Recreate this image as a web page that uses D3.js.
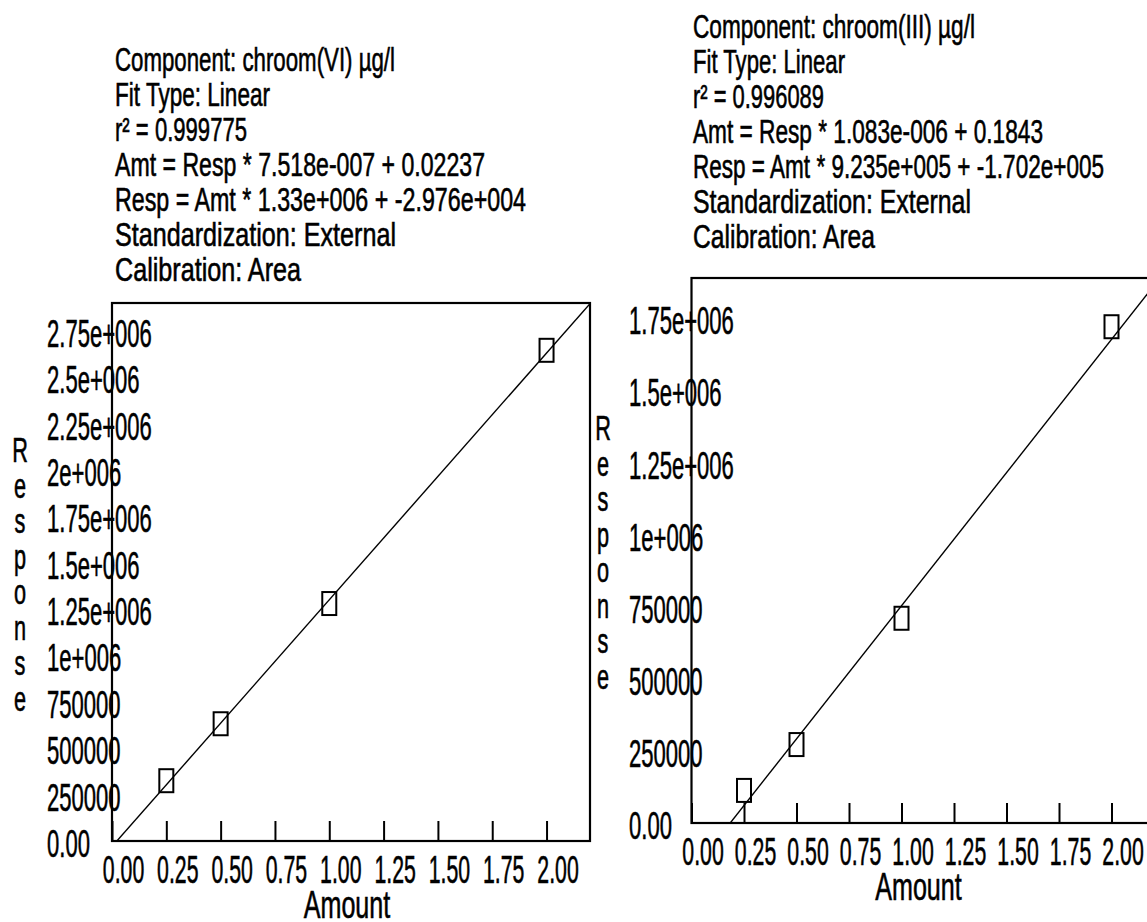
<!DOCTYPE html>
<html>
<head>
<meta charset="utf-8">
<script src="https://cdn.jsdelivr.net/npm/d3@7"></script>
<style>
  html, body { margin: 0; padding: 0; background: #fff; }
  svg { display: block; }
  text { font-family: "Liberation Sans", Arial, sans-serif; fill: #000; stroke: #000; stroke-width: 0.6px; }
</style>
</head>
<body>
<svg id="chart" width="1147" height="922"></svg>
<script>
// Shared amount axis
const amountTicks = [0, 0.25, 0.5, 0.75, 1.0, 1.25, 1.5, 1.75, 2.0];
const amountTickLabels = ["0.00", "0.25", "0.50", "0.75", "1.00", "1.25", "1.50", "1.75", "2.00"];

// chroom(VI) calibration
const viHeader = [
  "Component: chroom(VI) µg/l",
  "Fit Type: Linear",
  "r² = 0.999775",
  "Amt = Resp * 7.518e-007 + 0.02237",
  "Resp = Amt * 1.33e+006 + -2.976e+004",
  "Standardization: External",
  "Calibration: Area"
];
const viAmount = [0.25, 0.5, 1.0, 2.0];
const viResponse = [325000, 632000, 1280000, 2645000];
const viSlope = 1.33e6;
const viIntercept = -2.976e4;
const viYTicks = [0, 250000, 500000, 750000, 1000000, 1250000, 1500000, 1750000, 2000000, 2250000, 2500000, 2750000];
const viYTickLabels = ["0.00", "250000", "500000", "750000", "1e+006", "1.25e+006", "1.5e+006", "1.75e+006", "2e+006", "2.25e+006", "2.5e+006", "2.75e+006"];

// chroom(III) calibration
const iiiHeader = [
  "Component: chroom(III) µg/l",
  "Fit Type: Linear",
  "r² = 0.996089",
  "Amt = Resp * 1.083e-006 + 0.1843",
  "Resp = Amt * 9.235e+005 + -1.702e+005",
  "Standardization: External",
  "Calibration: Area"
];
const iiiAmount = [0.25, 0.5, 1.0, 2.0];
const iiiResponse = [113000, 272000, 710000, 1721000];
const iiiSlope = 9.235e5;
const iiiIntercept = -1.702e5;
const iiiYTicks = [0, 250000, 500000, 750000, 1000000, 1250000, 1500000, 1750000];
const iiiYTickLabels = ["0.00", "250000", "500000", "750000", "1e+006", "1.25e+006", "1.5e+006", "1.75e+006"];

const yTitle = "Response";
const xTitle = "Amount";

// Narrow the rendered text to mimic a condensed typeface
function condense(sel, f) {
  sel.each(function () {
    const len = this.getComputedTextLength();
    d3.select(this).attr("textLength", len * f).attr("lengthAdjust", "spacingAndGlyphs");
  });
}

const panels = [
  {
    id: "vi", header: viHeader, amount: viAmount, response: viResponse,
    slope: viSlope, intercept: viIntercept, yTicks: viYTicks, yTickLabels: viYTickLabels,
    left: 112, right: 590, top: 303, bottom: 841, xMax: 2.2, yMax: 2.9e6,
    headerX: 115, headerY: 71, headerWidths: [280, 155, 132, 370, 411, 281, 186],
    yLabelX: 47, titleX: 20, titleY: 462
  },
  {
    id: "iii", header: iiiHeader, amount: iiiAmount, response: iiiResponse,
    slope: iiiSlope, intercept: iiiIntercept, yTicks: iiiYTicks, yTickLabels: iiiYTickLabels,
    left: 691.5, right: 1153.5, top: 278, bottom: 823, xMax: 2.2, yMax: 1.89e6,
    headerX: 693, headerY: 38, headerWidths: [282, 152, 131, 350, 411, 278, 182],
    yLabelX: 629, titleX: 603, titleY: 440
  }
];

const svg = d3.select("#chart");

panels.forEach(p => {
  const g = svg.append("g");
  const x = d3.scaleLinear().domain([0, p.xMax]).range([p.left, p.right]);
  const y = d3.scaleLinear().domain([0, p.yMax]).range([p.bottom, p.top]);

  // header block, each line set to its printed width
  g.append("g").selectAll("text").data(p.header).join("text")
    .attr("x", p.headerX)
    .attr("y", (d, i) => p.headerY + i * 35)
    .attr("font-size", 33)
    .attr("textLength", (d, i) => p.headerWidths[i])
    .attr("lengthAdjust", "spacingAndGlyphs")
    .text(d => d);

  // plot frame
  g.append("rect")
    .attr("x", x(0)).attr("y", y(p.yMax))
    .attr("width", x(p.xMax) - x(0)).attr("height", y(0) - y(p.yMax))
    .attr("fill", "none").attr("stroke", "#000").attr("stroke-width", 2.2);

  // x axis: ticks point into the plot, labels beneath
  const xAxis = d3.axisBottom(x)
    .tickValues(amountTicks)
    .tickSize(-20)
    .tickSizeOuter(0)
    .tickFormat((d, i) => amountTickLabels[i]);
  const xg = g.append("g").attr("transform", `translate(0,${y(0)})`).call(xAxis);
  xg.select(".domain").remove();
  xg.selectAll(".tick line").attr("stroke", "#000").attr("stroke-width", 2);
  const xt = xg.selectAll(".tick text")
    .attr("font-family", null)
    .attr("font-size", 38)
    .attr("fill", "#000")
    .attr("y", 42).attr("dy", 0).attr("dx", 11);
  condense(xt, 0.56);

  // y axis labels sit on the left edge and run across the axis line
  const yAxis = d3.axisLeft(y)
    .tickValues(p.yTicks)
    .tickSize(0)
    .tickFormat((d, i) => p.yTickLabels[i]);
  const yg = g.append("g").attr("transform", `translate(${x(0)},0)`).call(yAxis);
  yg.select(".domain").remove();
  const yt = yg.selectAll(".tick text")
    .attr("font-family", null)
    .attr("font-size", 38)
    .attr("fill", "#000")
    .attr("text-anchor", "start")
    .attr("x", p.yLabelX - x(0))
    .attr("dy", 0).attr("y", 15.5);
  condense(yt, 0.58);

  // axis titles
  const at = g.append("text")
    .attr("x", (x(0) + x(p.xMax)) / 2 - 4)
    .attr("y", y(0) + 77)
    .attr("text-anchor", "middle")
    .attr("font-size", 38)
    .text(xTitle);
  condense(at, 0.66);

  const rt = g.append("g").selectAll("text").data(yTitle.split("")).join("text")
    .attr("x", p.titleX)
    .attr("y", (d, i) => p.titleY + i * 35.5)
    .attr("text-anchor", "middle")
    .attr("font-size", 35)
    .text(d => d);
  condense(rt, 0.62);

  // fitted calibration line, clipped to the plot area
  const clipId = "clip-" + p.id;
  g.append("clipPath").attr("id", clipId)
    .append("rect")
    .attr("x", x(0)).attr("y", y(p.yMax))
    .attr("width", x(p.xMax) - x(0)).attr("height", y(0) - y(p.yMax));
  const fit = [0, p.xMax].map(a => [a, p.slope * a + p.intercept]);
  g.append("path")
    .datum(fit)
    .attr("clip-path", `url(#${clipId})`)
    .attr("fill", "none").attr("stroke", "#000").attr("stroke-width", 1.4)
    .attr("d", d3.line().x(d => x(d[0])).y(d => y(d[1])));

  // calibration points
  g.append("g").selectAll("rect").data(p.amount).join("rect")
    .attr("x", d => x(d) - 7)
    .attr("y", (d, i) => y(p.response[i]) - 11.5)
    .attr("width", 14).attr("height", 23)
    .attr("fill", "none").attr("stroke", "#000").attr("stroke-width", 2);
});
</script>
</body>
</html>
